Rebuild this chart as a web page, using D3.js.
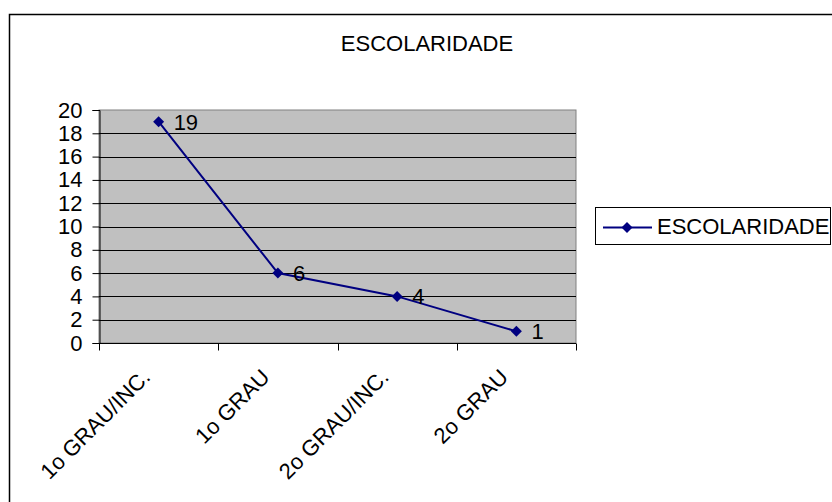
<!DOCTYPE html>
<html><head><meta charset="utf-8">
<script src="https://cdn.jsdelivr.net/npm/d3@7"></script>
<style>body{margin:0;background:#fff}svg{display:block;font-family:"Liberation Sans",Arial,sans-serif}</style>
</head><body>
<svg id="c" width="832" height="502"></svg>
<script>
const categories = ["1o GRAU/INC.", "1o GRAU", "2o GRAU/INC.", "2o GRAU"];
const values = [19, 6, 4, 1];
const yTicks = [0, 2, 4, 6, 8, 10, 12, 14, 16, 18, 20];
const seriesName = "ESCOLARIDADE";
const title = "ESCOLARIDADE";

const FS = 22;
const svg = d3.select("#c");
svg.append("rect").attr("x", 9.5).attr("y", 14.5).attr("width", 900).attr("height", 600)
  .attr("fill", "#fff").attr("stroke", "#000").attr("stroke-width", 1.5);

const L = 99, R = 576, T = 110, B = 343;
const x = d3.scaleBand().domain(categories).range([L, R]);
const y = d3.scaleLinear().domain([0, 20]).range([B, T]);

svg.append("rect").attr("x", L).attr("y", T).attr("width", R - L).attr("height", B - T)
  .attr("fill", "#c0c0c0").attr("stroke", "#808080").attr("stroke-width", 1);

svg.append("g").selectAll("line").data(yTicks.filter(d => d > 0 && d < 20)).join("line")
  .attr("x1", L).attr("x2", R).attr("y1", d => Math.round(y(d)) + 0.5).attr("y2", d => Math.round(y(d)) + 0.5)
  .attr("stroke", "#000").attr("stroke-width", 1);

const yAxis = svg.append("g").attr("transform", `translate(${L + 0.5},0)`)
  .call(d3.axisLeft(y).tickValues(yTicks).tickSize(7).tickPadding(10).tickFormat(d3.format("d")));
yAxis.select(".domain").attr("stroke", "#000");
yAxis.selectAll(".tick line").attr("stroke", "#000");
yAxis.selectAll("text").attr("font-size", FS).attr("fill", "#000").attr("font-family", "Liberation Sans, Arial, sans-serif");

const xAxis = svg.append("g").attr("transform", `translate(0,${B + 0.5})`);
xAxis.append("line").attr("x1", L).attr("x2", R).attr("stroke", "#000");
const tickPos = categories.map(c => x(c)).concat([R]);
xAxis.selectAll("line.t").data(tickPos).join("line").attr("class", "t")
  .attr("x1", d => Math.round(d) + 0.5).attr("x2", d => Math.round(d) + 0.5).attr("y1", 0).attr("y2", 7).attr("stroke", "#000");
xAxis.selectAll("text").data(categories).join("text")
  .attr("transform", d => `translate(${x(d) + x.bandwidth() / 2 - 7},${35}) rotate(-45)`)
  .attr("text-anchor", "end").attr("font-size", FS).attr("fill", "#000").text(d => d);

const cx = d => x(d) + x.bandwidth() / 2;
const line = d3.line().x((d, i) => cx(categories[i])).y(d => y(d));
svg.append("path").datum(values).attr("d", line).attr("fill", "none").attr("stroke", "#000080").attr("stroke-width", 2);

const diamond = d3.symbol().type(d3.symbolDiamond2).size(77);
svg.append("g").selectAll("path").data(values).join("path")
  .attr("d", diamond).attr("transform", (d, i) => `translate(${cx(categories[i])},${y(d)})`).attr("fill", "#000080");

svg.append("g").selectAll("text").data(values).join("text")
  .attr("x", (d, i) => cx(categories[i]) + 15).attr("y", d => y(d) + 8)
  .attr("font-size", FS).attr("fill", "#000").text(d => d);

svg.append("text").attr("x", 427).attr("y", 51).attr("text-anchor", "middle")
  .attr("font-size", FS).attr("fill", "#000").text(title);

const lg = svg.append("g");
lg.append("rect").attr("x", 595.5).attr("y", 207.5).attr("width", 235).attr("height", 37)
  .attr("fill", "#fff").attr("stroke", "#000").attr("stroke-width", 1);
lg.append("line").attr("x1", 603).attr("x2", 652).attr("y1", 227.5).attr("y2", 227.5).attr("stroke", "#000080").attr("stroke-width", 2);
lg.append("path").attr("d", diamond).attr("transform", "translate(627,227.5)").attr("fill", "#000080");
lg.append("text").attr("x", 657).attr("y", 234).attr("font-size", FS).attr("fill", "#000").text(seriesName);
</script>
</body></html>
